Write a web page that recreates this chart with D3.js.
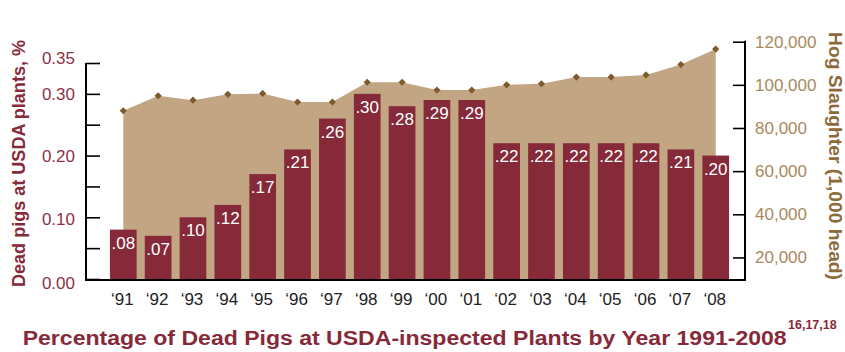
<!DOCTYPE html>
<html><head><meta charset="utf-8">
<script src="https://cdn.jsdelivr.net/npm/d3@7"></script>
<style>
html,body{margin:0;padding:0;background:#fff;}
svg text{font-family:"Liberation Sans",Arial,sans-serif;}
</style></head>
<body><svg id="c" width="845" height="352"></svg>
<script>
const years = ["1991","1992","1993","1994","1995","1996","1997","1998","1999","2000","2001","2002","2003","2004","2005","2006","2007","2008"];
const yearLabels = ["‘91","‘92","‘93","‘94","‘95","‘96","‘97","‘98","‘99","‘00","‘01","‘02","‘03","‘04","‘05","‘06","‘07","‘08"];
const deadPct = [0.08,0.07,0.10,0.12,0.17,0.21,0.26,0.30,0.28,0.29,0.29,0.22,0.22,0.22,0.22,0.22,0.21,0.20];
const deadLabels = [".08",".07",".10",".12",".17",".21",".26",".30",".28",".29",".29",".22",".22",".22",".22",".22",".21",".20"];
const slaughter = [88000,94900,92900,95600,96000,92000,92000,101200,101200,97600,97600,100000,100500,103600,103600,104600,109400,116600];
const leftTicks = [0,0.05,0.10,0.15,0.20,0.25,0.30,0.35];
const leftTickLabels = {"0":"0.00","0.1":"0.10","0.2":"0.20","0.3":"0.30","0.35":"0.35"};
const rightTicks = [20000,40000,60000,80000,100000,120000];

const svg = d3.select("#c");
const maroon = "#862a3a", tan = "#c2a683", diamond = "#7d5a2e";
const axL = 86, axR = 745, base = 279;

const x = d3.scaleBand().domain(years).range([90, 749]).paddingInner(0.234).paddingOuter(0.572);
const yL = d3.scaleLinear().domain([0, 0.35]).range([base, 63]);
const yR = d3.scaleLinear().domain([10000, 120000]).range([base, 41.7]);
const cx = d => x(d) + x.bandwidth()/2;

// area
const data = years.map((y,i)=>({y, v: slaughter[i], p: deadPct[i], l: deadLabels[i], xl: yearLabels[i]}));
svg.append("path").datum(data)
  .attr("fill", tan)
  .attr("d", d3.area().x(d=>cx(d.y)).y0(base).y1(d=>yR(d.v)));

// bars
svg.append("g").selectAll("rect").data(data).join("rect")
  .attr("x", d=>x(d.y)).attr("width", x.bandwidth())
  .attr("y", d=>yL(d.p)).attr("height", d=>base - yL(d.p))
  .attr("fill", maroon);

// bar labels
svg.append("g").selectAll("text").data(data).join("text")
  .attr("x", d=>cx(d.y)).attr("y", d=>yL(d.p)+19)
  .attr("text-anchor","middle").attr("fill","#fff").attr("font-size",17)
  .text(d=>d.l);

// diamonds
svg.append("g").selectAll("path").data(data).join("path")
  .attr("transform", d=>`translate(${cx(d.y)},${yR(d.v)}) rotate(45)`)
  .attr("d", d3.symbol(d3.symbolSquare, 26)())
  .attr("fill", diamond);

// left axis
const gl = svg.append("g").attr("transform",`translate(${axL},0)`)
  .call(d3.axisLeft(yL).tickValues(leftTicks).tickSize(-14).tickPadding(11)
    .tickFormat(v => leftTickLabels[String(+v.toFixed(2))] || ""));
gl.select(".domain").attr("stroke","#000").attr("stroke-width",2).attr("d",`M0,${yL(0.35)}V${base+2}`);
gl.selectAll(".tick line").attr("stroke","#000").attr("stroke-width",1.6);
gl.selectAll(".tick text").attr("fill","#8c3244").attr("font-size",17).attr("font-family","Liberation Sans, Arial, sans-serif")
  .attr("dy", v => v===0.35 ? "0.05em" : (v===0 ? "0.55em" : (v===0.1? "0.45em":"0.32em")));

// right axis
const gr = svg.append("g").attr("transform",`translate(${axR},0)`)
  .call(d3.axisRight(yR).tickValues(rightTicks).tickSize(-12).tickPadding(10).tickFormat(d3.format(",")));
gr.select(".domain").attr("stroke","#000").attr("stroke-width",2).attr("d",`M0,${yR(120000)-1}V${base+2}`);
gr.selectAll(".tick line").attr("stroke","#000").attr("stroke-width",1.6);
gr.selectAll(".tick text").attr("fill","#a9895c").attr("font-size",17).attr("font-family","Liberation Sans, Arial, sans-serif");

// bottom axis line
svg.append("line").attr("x1",axL-1).attr("x2",axR).attr("y1",base+1).attr("y2",base+1)
  .attr("stroke","#000").attr("stroke-width",2);

// x labels
svg.append("g").selectAll("text").data(data).join("text")
  .attr("x", d=>cx(d.y)-1).attr("y", 305)
  .attr("text-anchor","middle").attr("fill","#222").attr("font-size",17)
  .text(d=>d.xl);

// axis titles
svg.append("text").attr("transform","translate(25,163.5) rotate(-90)")
  .attr("text-anchor","middle").attr("fill","#862a3a").attr("font-weight","bold").attr("font-size",19)
  .attr("textLength",247).attr("lengthAdjust","spacingAndGlyphs")
  .text("Dead pigs at USDA plants, %");
svg.append("text").attr("transform","translate(829,156) rotate(90)")
  .attr("text-anchor","middle").attr("fill","#8c6a3a").attr("font-weight","bold").attr("font-size",19)
  .attr("textLength",248).attr("lengthAdjust","spacingAndGlyphs")
  .text("Hog Slaughter (1,000 head)");

// title
svg.append("text").attr("x",22.7).attr("y",345.3)
  .attr("fill","#862a3a").attr("font-weight","bold").attr("font-size",20)
  .attr("textLength",764).attr("lengthAdjust","spacingAndGlyphs")
  .text("Percentage of Dead Pigs at USDA-inspected Plants by Year 1991-2008");
svg.append("text").attr("x",788).attr("y",329)
  .attr("fill","#862a3a").attr("font-weight","bold").attr("font-size",12.5)
  .text("16,17,18");
</script></body></html>
